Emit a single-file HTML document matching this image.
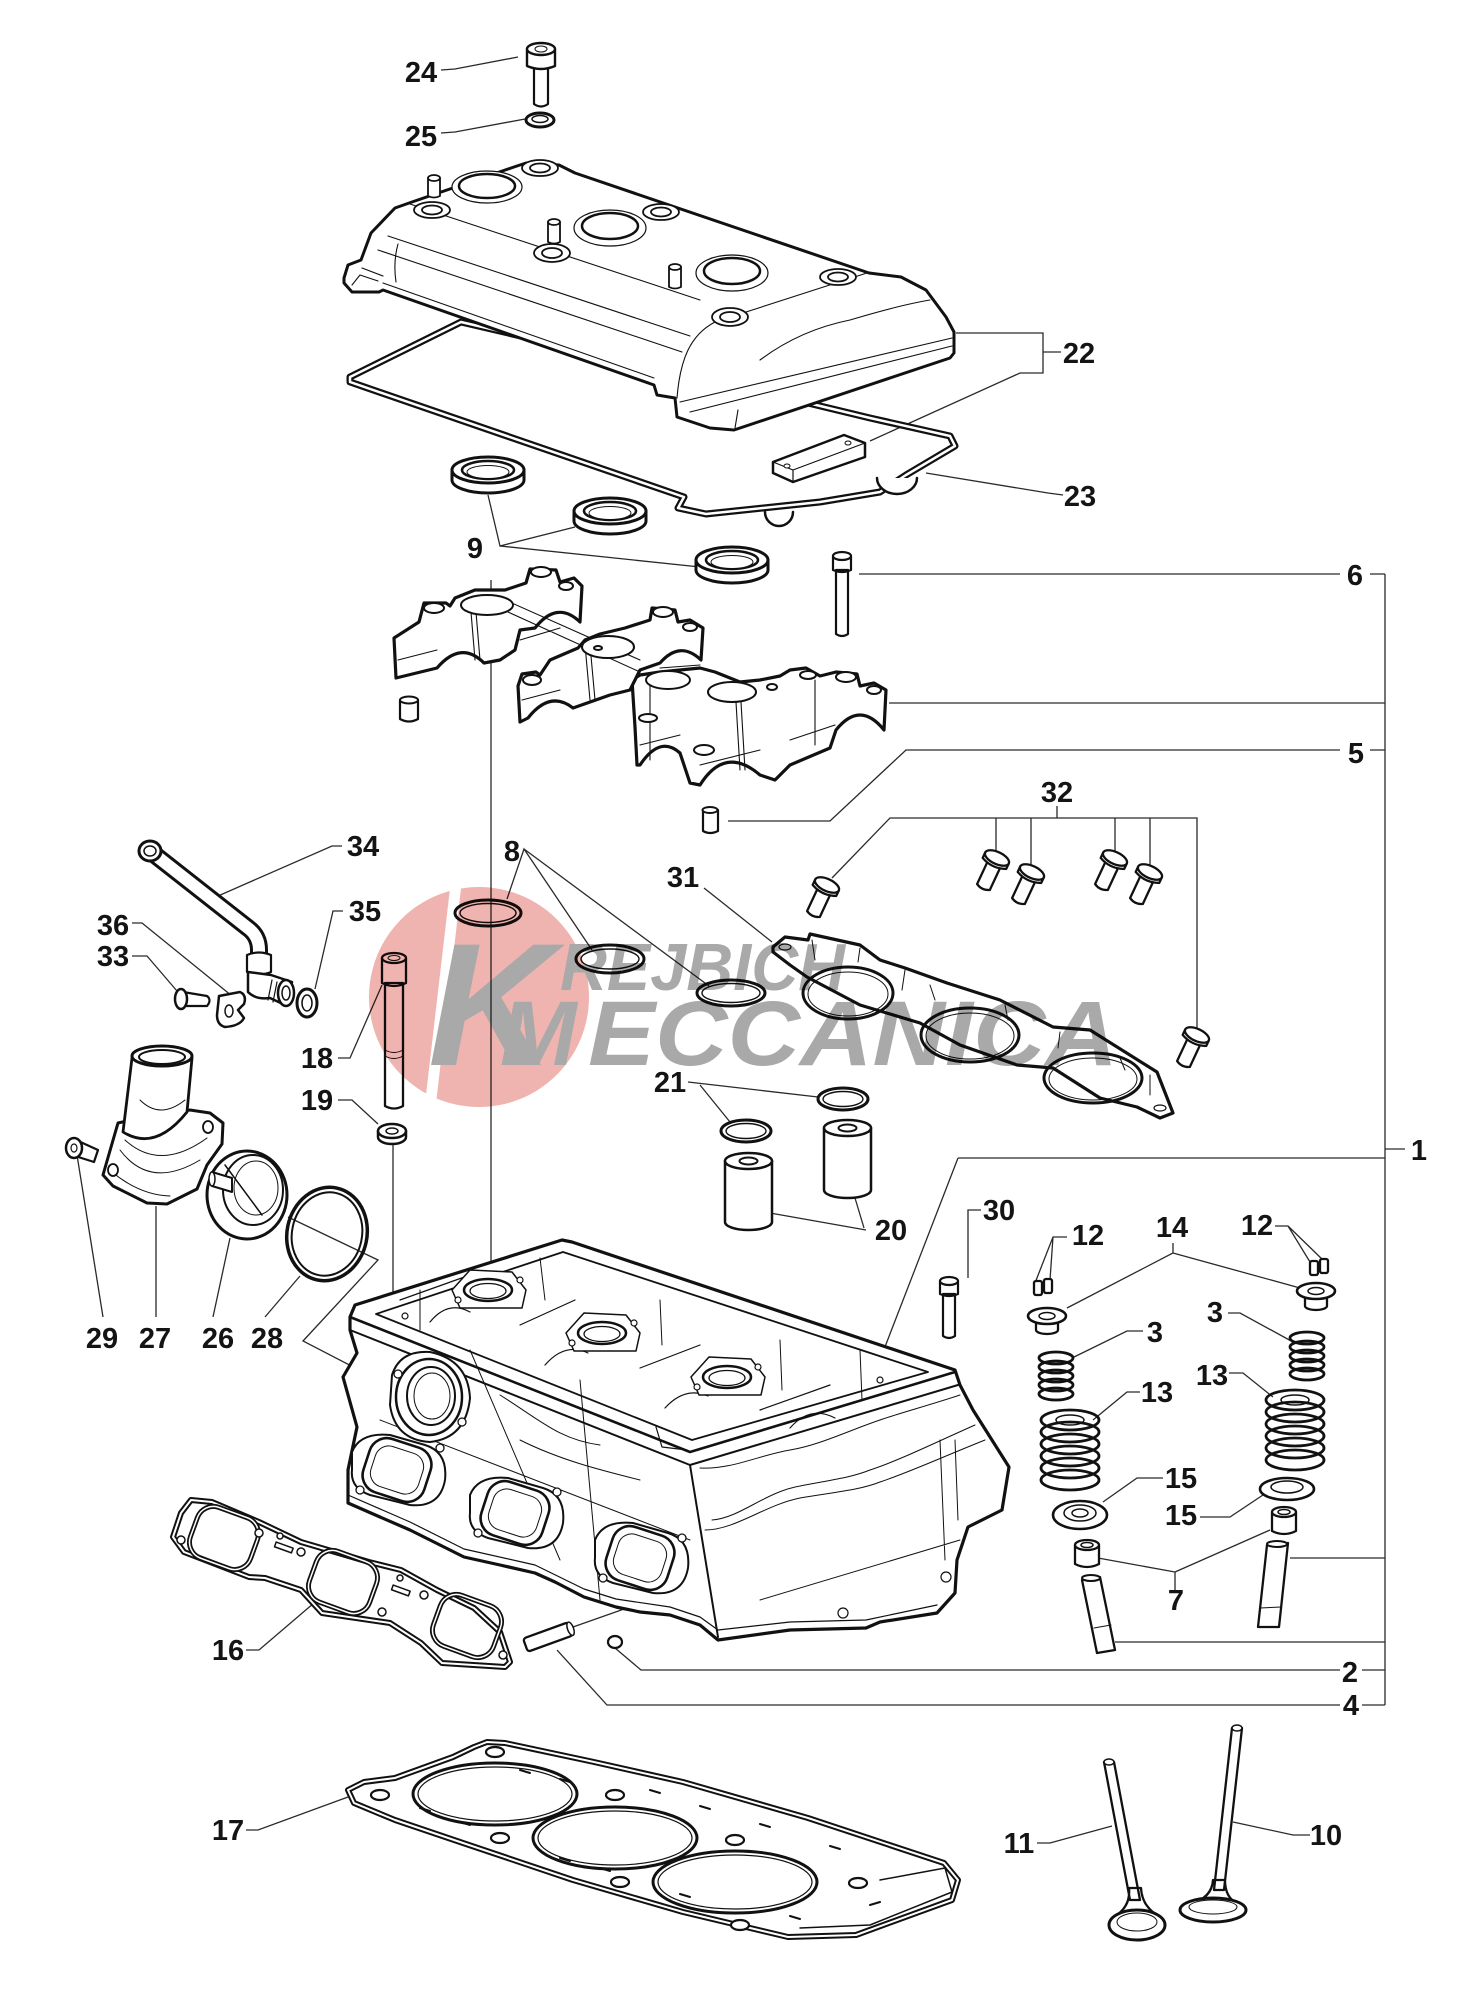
<!DOCTYPE html>
<html><head><meta charset="utf-8">
<style>
html,body{margin:0;padding:0;background:#fff;}
svg{display:block;}
.t text{font-family:"Liberation Sans",Arial,sans-serif;font-weight:bold;font-size:29px;fill:#141414;text-anchor:middle;}
</style></head><body>
<svg width="1469" height="1994" viewBox="0 0 1469 1994" xmlns="http://www.w3.org/2000/svg">
<defs>
<g id="b32"><path d="M-7,5 L-7,32 Q0,36 7,32 L7,5 Z"/><path d="M-13,0 L-13,6 Q0,12 13,6 L13,0 Z"/><ellipse rx="13" ry="6"/></g>
<g id="seal"><path d="M-36,0 L-36,10 A36,13 0 0 0 36,10 L36,0 Z"/><ellipse rx="36" ry="13"/><ellipse rx="26" ry="9" stroke-width="2.5"/><ellipse cy="2" rx="21" ry="6.5" stroke-width="1"/></g>
<path id="g23" d="M350,377 L461,322 L812,404 L870,418 L950,436 L955,446 L906,475 L880,492 L820,502 L706,514 L678,508 L684,497 L350,382 Z"/>
<path id="p34" d="M150,851 L248,928 Q259,936 259,950 L259,975"/>
<path id="g16" d="M191,1500 L212,1502 L259,1522 L301,1542 L369,1562 L401,1570 L437,1590 L474,1608 L500,1632 L510,1662 L505,1667 L442,1663 L421,1643 L390,1623 L322,1613 L301,1590 L265,1578 L249,1577 L184,1552 L173,1537 L181,1513 Z"/>
<path id="g17" d="M474,1747 L487,1742 L505,1743 L594,1762 L683,1782 L808,1818 L944,1863 L958,1880 L952,1900 L856,1935 L788,1937 L683,1912 L573,1880 L463,1843 L395,1820 L354,1803 L348,1790 L364,1782 L395,1778 L453,1757 Z"/>
<rect id="pA" x="192" y="1511" width="64" height="54" rx="17" transform="rotate(20,224,1538)"/>
<rect id="pB" x="311" y="1555" width="64" height="54" rx="17" transform="rotate(20,343,1582)"/>
<rect id="pC" x="435" y="1599" width="64" height="54" rx="17" transform="rotate(20,467,1626)"/>
</defs>
<rect width="1469" height="1994" fill="#fff"/>

<path fill="none" stroke="#2a2a2a" stroke-width="1.3" d="
M441,70 L455,69 L518,57 M441,133 L455,132 L525,119
M956,333 L1043,333 L1043,373 L1020,373 L870,441 M1043,352 L1061,352 M1063,495 L1048,493 L926,473
M488,495 L500,546 L575,527 M500,546 L700,567
M859,574 L1340,574 M1370,574 L1385,574 M889,703 L1385,703
M728,821 L830,821 L906,750 L1340,750 M1370,750 L1385,750 M1385,574 L1385,1705
M832,878 L890,818 L1197,818 L1197,1028 M996,818 L996,851 M1031,818 L1031,866 M1115,818 L1115,851 M1150,818 L1150,866 M1057,806 L1057,818
M342,846 L332,846 L218,896 M507,899 L524,849 L592,950 M524,849 L709,986 M704,888 L772,942
M343,911 L333,911 L315,989 M132,923 L142,923 L232,996 M132,956 L147,956 L177,991
M338,1058 L350,1058 L382,985 M338,1100 L352,1100 L378,1124
M818,1097 L688,1082 M700,1085 L730,1122 M770,1213 L866,1230 M855,1198 L864,1228
M981,1210 L968,1210 L968,1278 M958,1158 L1385,1158 M958,1158 L883,1352 M1385,1149 L1405,1149
M1067,1237 L1053,1237 L1035,1283 M1053,1237 L1050,1280
M1173,1243 L1173,1253 L1067,1308 M1173,1253 L1300,1288
M1275,1226 L1288,1226 L1310,1262 M1288,1226 L1325,1262
M1143,1331 L1127,1331 L1072,1358 M1228,1313 L1240,1313 L1293,1342
M1140,1392 L1127,1392 L1093,1420 M1229,1373 L1243,1373 L1273,1397
M1163,1478 L1137,1478 L1103,1502 M1200,1517 L1230,1517 L1263,1495
M1175,1590 L1175,1572 L1098,1558 M1175,1572 L1270,1530
M1290,1558 L1385,1558 M1115,1642 L1385,1642
M615,1648 L641,1670 L1340,1670 M1362,1670 L1385,1670
M557,1650 L607,1705 L1340,1705 M1362,1705 L1385,1705 M573,1627 L641,1603
M246,1650 L259,1650 L314,1603 M246,1830 L258,1830 L348,1797
M1037,1843 L1050,1843 L1112,1826 M1310,1835 L1293,1835 L1233,1822
M156,1317 L156,1206 M103,1317 L77,1155 M213,1317 L230,1238 M265,1317 L300,1276
M288,1217 L378,1260 L303,1341 L450,1417 M491,580 L491,1288 M393,1142 L393,1318"/>

<g stroke="#111" fill="#fff" stroke-linejoin="round" stroke-linecap="round">

<!-- bolt 24 / washer 25 -->
<path d="M534,66 L534,104 Q541,109 548,104 L548,66 Z" stroke-width="2.2"/>
<path d="M527,49 L527,66 Q541,72 555,66 L555,49 Z" stroke-width="2.4"/>
<ellipse cx="541" cy="49" rx="14" ry="6" stroke-width="2.4"/>
<ellipse cx="541" cy="49" rx="6" ry="3" stroke-width="1"/>
<ellipse cx="540" cy="120" rx="14" ry="7" stroke-width="3"/>
<ellipse cx="540" cy="119" rx="8" ry="3.5" stroke-width="1.5"/>

<!-- gasket 23 -->
<use href="#g23" fill="none" stroke="#111" stroke-width="7"/>
<use href="#g23" fill="none" stroke="#fff" stroke-width="2.5"/>
<path d="M765,512 A14,14 0 0 0 793,512 M877,478 A20,16 0 0 0 917,478" stroke-width="2.5"/>

<!-- valve cover 22 -->
<polygon points="344,278 348,265 361,260 371,233 395,208 412,202 514,167 526,163 559,165 575,173 869,273 901,277 926,290 946,317 954,332 954,353 950,358 734,430 710,428 677,417 675,398 657,395 654,385 383,290 379,292 352,292 344,283" stroke-width="3"/>
<path fill="none" stroke-width="1.1" d="M383,283 L654,378 M362,268 L383,276 M388,236 L690,336 M378,250 L682,352 M410,204 L700,300 M677,398 C680,360 690,335 715,322 L870,272 M680,402 L952,338 M690,412 L952,346 M352,285 L360,275 L378,281 M398,244 Q393,262 396,282 M735,428 L738,410 M760,360 Q800,330 850,320 Q900,305 930,300"/>
<g stroke-width="1.2"><ellipse cx="487" cy="187" rx="35" ry="16"/><ellipse cx="610" cy="228" rx="36" ry="18"/><ellipse cx="732" cy="273" rx="36" ry="18"/></g>
<g stroke-width="2.5"><ellipse cx="487" cy="186" rx="28" ry="12"/><ellipse cx="610" cy="226" rx="28" ry="13"/><ellipse cx="732" cy="271" rx="28" ry="13"/></g>
<g stroke-width="1.8">
<ellipse cx="540" cy="168" rx="18" ry="8"/><ellipse cx="540" cy="168" rx="10" ry="4.5"/>
<ellipse cx="432" cy="210" rx="18" ry="8"/><ellipse cx="432" cy="210" rx="10" ry="4.5"/>
<ellipse cx="552" cy="253" rx="18" ry="9"/><ellipse cx="552" cy="253" rx="10" ry="5"/>
<ellipse cx="661" cy="212" rx="18" ry="8"/><ellipse cx="661" cy="212" rx="10" ry="4.5"/>
<ellipse cx="838" cy="277" rx="18" ry="8"/><ellipse cx="838" cy="277" rx="10" ry="4.5"/>
<ellipse cx="730" cy="317" rx="18" ry="9"/><ellipse cx="730" cy="317" rx="10" ry="5"/>
<path d="M428,178 L428,196 Q434,199 440,196 L440,178 Z M548,222 L548,242 Q554,245 560,242 L560,222 Z M669,267 L669,287 Q675,290 681,287 L681,267 Z"/>
<ellipse cx="434" cy="178" rx="6" ry="3"/><ellipse cx="554" cy="222" rx="6" ry="3"/><ellipse cx="675" cy="267" rx="6" ry="3"/>
</g>

<!-- block 22 -->
<polygon points="773,462 844,435 865,443 865,457 793,482 773,473" stroke-width="2.5"/>
<path d="M773,462 L793,470 L865,443 M793,470 L793,482" fill="none" stroke-width="1.2"/>
<ellipse cx="787" cy="466" rx="3" ry="2" stroke-width="1"/><ellipse cx="848" cy="443" rx="3" ry="2" stroke-width="1"/>

<!-- seals 9 -->
<g stroke-width="3">
<use href="#seal" x="488" y="470"/><use href="#seal" x="610" y="511"/><use href="#seal" x="732" y="560"/>
</g>

<!-- bolt 6 -->
<path d="M836,570 L836,634 Q842,638 848,634 L848,570 Z M833,556 L833,570 Q842,574 851,570 L851,556 Z" stroke-width="2.2"/>
<ellipse cx="842" cy="556" rx="9" ry="4" stroke-width="2.2"/>

<!-- camshaft carrier -->
<g stroke-width="3.2">
<path d="M635,727 L637,765 L640,765 Q660,735 680,753 L690,783 L700,785 Q725,745 760,775 L775,780 L790,765 L830,748 L836,730 Q860,700 884,730 L886,690 L874,683 L860,686 L857,674 L836,672 L820,676 L806,668 L790,670 L780,676 L760,680 L740,682 L715,672 L700,668 L680,670 L660,672 L640,675 L632,680 Z"/>
<path d="M518,686 L520,722 L528,718 Q550,690 573,708 L610,695 L630,690 L640,670 L660,663 Q680,640 701,660 L703,628 L690,620 L678,622 L675,610 L652,608 L650,620 L625,628 L600,634 L585,640 L578,648 L550,660 L540,675 L536,672 L522,674 Z"/>
<path d="M394,638 L396,678 L437,668 Q461,640 484,663 L500,660 L515,650 L520,630 L535,628 Q557,600 580,622 L582,586 L574,578 L560,582 L556,570 L530,569 L526,583 L505,590 L475,590 L455,598 L450,606 L446,603 L424,603 L419,622 Z"/>
</g>
<path fill="none" stroke-width="1.1" d="M398,660 L437,650 M520,640 L560,628 M522,700 L560,690 M640,745 L680,735 M700,765 L760,750 M790,740 L835,725 M470,600 L475,660 M475,600 L480,660 M585,645 L590,700 M590,645 L595,700 M735,685 L740,770 M740,685 L745,770 M505,600 L640,660 M508,612 L640,672 M650,680 L650,760 M815,680 L815,745 M660,668 L700,665"/>
<g stroke-width="2">
<ellipse cx="487" cy="605" rx="26" ry="10"/><ellipse cx="608" cy="647" rx="26" ry="11"/>
<ellipse cx="668" cy="680" rx="22" ry="9"/><ellipse cx="732" cy="692" rx="24" ry="10"/>
<ellipse cx="434" cy="608" rx="10" ry="5"/><ellipse cx="541" cy="572" rx="10" ry="5"/>
<ellipse cx="566" cy="586" rx="7" ry="4"/><ellipse cx="532" cy="680" rx="9" ry="5"/>
<ellipse cx="663" cy="612" rx="10" ry="5"/><ellipse cx="690" cy="627" rx="7" ry="4"/>
<ellipse cx="648" cy="718" rx="9" ry="4"/><ellipse cx="704" cy="750" rx="10" ry="5"/>
<ellipse cx="808" cy="675" rx="8" ry="4"/><ellipse cx="846" cy="677" rx="10" ry="5"/>
<ellipse cx="874" cy="690" rx="7" ry="4"/><ellipse cx="598" cy="648" rx="4" ry="2"/>
<ellipse cx="772" cy="687" rx="5" ry="3"/>
</g>

<!-- dowels -->
<path d="M400,700 L400,719 Q409,724 418,719 L418,700 Z M703,810 L703,831 Q710,835 718,831 L718,810 Z" stroke-width="2.2"/>
<ellipse cx="409" cy="700" rx="9" ry="3.5" stroke-width="2"/><ellipse cx="710" cy="810" rx="7.5" ry="3" stroke-width="2"/>

<!-- bolts 32 -->
<g stroke-width="2.3">
<use href="#b32" transform="translate(827,885) rotate(25)"/>
<use href="#b32" transform="translate(997,858) rotate(25)"/>
<use href="#b32" transform="translate(1032,872) rotate(25)"/>
<use href="#b32" transform="translate(1115,858) rotate(25)"/>
<use href="#b32" transform="translate(1150,872) rotate(25)"/>
<use href="#b32" transform="translate(1197,1035) rotate(25)"/>
</g>

<!-- gasket 31 -->
<polygon points="773,947 785,937 808,940 810,934 860,945 880,960 905,968 947,983 1000,1000 1053,1027 1090,1030 1157,1072 1173,1113 1160,1118 1137,1107 1100,1098 1053,1068 1017,1065 960,1045 920,1023 860,1005 807,977 790,965 773,952" stroke-width="3.2"/>
<g fill="none" stroke-width="3"><ellipse cx="848" cy="993" rx="45" ry="26"/><ellipse cx="970" cy="1035" rx="49" ry="27"/><ellipse cx="1093" cy="1078" rx="49" ry="25"/></g>
<g fill="none" stroke-width="1"><ellipse cx="848" cy="994" rx="40" ry="22"/><ellipse cx="970" cy="1036" rx="44" ry="23"/><ellipse cx="1093" cy="1079" rx="44" ry="21"/>
<path d="M812,940 L815,960 M860,948 L858,962 M905,970 L902,990 M930,985 L935,1000 M1005,1005 L1008,1020 M1060,1032 L1058,1048 M1120,1058 L1125,1070 M1150,1075 L1150,1095"/></g>
<ellipse cx="785" cy="947" rx="6" ry="3" stroke-width="1.2"/><ellipse cx="1160" cy="1108" rx="6" ry="3" stroke-width="1.2"/>

<!-- rings 8, 21 -->
<g fill="none" stroke-width="3">
<ellipse cx="488" cy="913" rx="33" ry="13"/><ellipse cx="610" cy="959" rx="34" ry="14"/><ellipse cx="731" cy="993" rx="34" ry="13"/>
<ellipse cx="843" cy="1099" rx="25" ry="11"/><ellipse cx="746" cy="1131" rx="25" ry="11"/>
</g>
<g fill="none" stroke-width="1.4">
<ellipse cx="488" cy="913" rx="28" ry="9.5"/><ellipse cx="610" cy="959" rx="29" ry="10"/><ellipse cx="731" cy="993" rx="29" ry="9.5"/>
<ellipse cx="843" cy="1099" rx="20" ry="7.5"/><ellipse cx="746" cy="1131" rx="20" ry="7.5"/>
</g>

<!-- cylinders 20 -->
<g stroke-width="2.5">
<path d="M725,1161 L725,1222 A23.5,8 0 0 0 772,1222 L772,1161 Z M824,1128 L824,1190 A23.5,8 0 0 0 871,1190 L871,1128 Z"/>
<ellipse cx="748.5" cy="1161" rx="23.5" ry="8"/><ellipse cx="847.5" cy="1128" rx="23.5" ry="8"/>
<ellipse cx="748.5" cy="1161" rx="9" ry="3.5" stroke-width="2"/><ellipse cx="847.5" cy="1128" rx="9" ry="3.5" stroke-width="2"/>
</g>

<!-- bolt 30 -->
<path d="M943,1294 L943,1336 Q949,1340 955,1336 L955,1294 Z M940,1281 L940,1294 Q949,1298 958,1294 L958,1281 Z" stroke-width="2.2"/>
<ellipse cx="949" cy="1281" rx="9" ry="4" stroke-width="2.2"/>

<!-- bolt 18 / washer 19 -->
<path d="M385,983 L385,1106 Q394,1111 403,1106 L403,983 Z M382,958 L382,983 Q394,989 406,983 L406,958 Z" stroke-width="2.3"/>
<ellipse cx="394" cy="958" rx="12" ry="5" stroke-width="2.3"/>
<ellipse cx="394" cy="958" rx="6" ry="2.5" stroke-width="1"/>
<path d="M385,1050 Q394,1055 403,1050 M385,1056 Q394,1061 403,1056" fill="none" stroke-width="1"/>
<path d="M378,1131 L378,1137 A14,7 0 0 0 406,1137 L406,1131 Z" stroke-width="2.5"/>
<ellipse cx="392" cy="1131" rx="14" ry="7" stroke-width="2.5"/>
<ellipse cx="392" cy="1131" rx="6" ry="3" stroke-width="1.5"/>

<!-- pipe 34 etc -->
<use href="#p34" fill="none" stroke="#111" stroke-width="18"/>
<use href="#p34" fill="none" stroke="#fff" stroke-width="12"/>
<ellipse cx="150" cy="851" rx="11" ry="10" stroke-width="3"/>
<ellipse cx="150" cy="851" rx="6" ry="5" stroke-width="1.5"/>
<path d="M247,955 L247,972 Q259,977 271,972 L271,955 Q259,950 247,955 Z" stroke-width="2.2"/>
<path d="M248,972 L248,992 Q256,1000 270,998 L285,1005 L292,982 L271,975 Z" stroke-width="2.5"/>
<ellipse cx="286" cy="993" rx="8" ry="13" stroke-width="2.5"/>
<ellipse cx="286" cy="993" rx="4" ry="7" stroke-width="1.5"/>
<path d="M272,980 L268,1000 M277,982 L273,1002" fill="none" stroke-width="1.2"/>
<ellipse cx="307" cy="1003" rx="10" ry="14" stroke-width="3"/>
<ellipse cx="307" cy="1003" rx="5" ry="8" stroke-width="1.5"/>
<path d="M183,992 L207,996 Q212,1000 207,1006 L183,1006 Z" stroke-width="2.2"/>
<ellipse cx="181" cy="999" rx="6" ry="10" stroke-width="2.5"/>
<path d="M219,996 L240,992 Q247,995 244,1004 L238,1010 L244,1018 Q240,1026 225,1027 Q217,1025 217,1015 Z" stroke-width="2.5"/>
<ellipse cx="229" cy="1011" rx="4" ry="6" stroke-width="1.5"/>

<!-- housing 27, bolt 29, thermostat 26, o-ring 28 -->
<path d="M118,1123 L107,1161 L103,1175 L113,1186 L147,1203 L167,1204 L197,1189 L207,1165 L222,1144 L223,1123 L210,1113 L190,1110 L140,1118 Z" stroke-width="3"/>
<path d="M120,1150 Q150,1190 200,1160 M125,1140 Q160,1172 207,1138 M112,1172 Q140,1195 170,1196" fill="none" stroke-width="1"/>
<path d="M132,1058 L123,1132 Q155,1152 187,1112 L192,1058 Z" stroke-width="2.8"/>
<path d="M140,1100 Q160,1120 185,1100" fill="none" stroke-width="1"/>
<ellipse cx="162" cy="1056" rx="30" ry="10" stroke-width="3"/>
<ellipse cx="162" cy="1057" rx="23" ry="7" stroke-width="2"/>
<ellipse cx="208" cy="1127" rx="5" ry="6" stroke-width="1.8"/>
<ellipse cx="113" cy="1170" rx="5" ry="6" stroke-width="1.8"/>
<polygon points="76,1140 98,1150 94,1162 72,1155" stroke-width="2.2"/>
<ellipse cx="74" cy="1148" rx="8" ry="10" stroke-width="2.5"/>
<ellipse cx="74" cy="1148" rx="3" ry="4" stroke-width="1.2"/>
<ellipse cx="247" cy="1195" rx="40" ry="44" stroke-width="3"/>
<ellipse cx="253" cy="1190" rx="30" ry="35" stroke-width="2"/>
<ellipse cx="256" cy="1188" rx="22" ry="27" stroke-width="1"/>
<path d="M225,1165 L262,1215" fill="none" stroke-width="1.5"/>
<path d="M212,1172 L232,1178 L232,1192 L212,1186 Z" stroke-width="2"/>
<ellipse cx="212" cy="1179" rx="3" ry="7" stroke-width="1.5"/>
<g transform="rotate(12,327,1234)" fill="none">
<ellipse cx="327" cy="1234" rx="40" ry="47" stroke-width="3.5"/>
<ellipse cx="327" cy="1234" rx="35" ry="42" stroke-width="2"/>
</g>

<!-- cylinder head -->
<path d="M350,1317 L355,1305 L562,1240 L572,1242 L955,1370 L960,1385 L973,1410 L1009,1467 L1002,1510 L968,1527 L957,1560 L955,1593 L937,1613 L880,1622 L866,1628 L790,1630 L718,1640 L700,1625 L670,1615 L640,1612 L616,1607 L584,1597 L555,1582 L535,1573 L500,1565 L464,1557 L430,1540 L410,1530 L380,1517 L348,1503 L348,1470 L357,1427 L343,1377 L357,1353 L350,1330 Z" stroke-width="3.2"/>
<path fill="none" stroke-width="2.6" d="M350,1317 L690,1452 L955,1372"/>
<path fill="none" stroke-width="2" d="M350,1330 L690,1465 L958,1385 M690,1465 L718,1637"/>
<path fill="none" stroke-width="1.8" d="M376,1314 L563,1252 L928,1372 L692,1440 Z"/>
<path fill="none" stroke-width="1.2" d="M656,1427 L662,1447 L687,1450 M348,1495 L410,1522 L464,1549 L535,1565 L584,1589 L616,1599 L670,1607 L700,1617 L718,1630 M718,1630 L790,1622 L866,1620 L937,1605 M400,1300 L470,1275 M520,1325 L575,1300 M640,1368 L700,1345 M760,1410 L830,1385 M430,1322 Q448,1300 470,1312 M545,1365 Q565,1342 588,1353 M665,1408 Q685,1386 708,1396 M790,1428 Q810,1405 835,1418"/>
<path fill="none" stroke-width="1" d="M700,1468 C730,1470 760,1455 790,1450 C820,1445 850,1430 880,1420 C900,1413 930,1405 960,1395 M712,1520 C740,1518 765,1492 800,1486 C830,1480 850,1478 870,1470 C900,1460 930,1445 975,1425 M705,1530 C735,1530 765,1505 800,1498 C835,1492 860,1490 880,1482 C910,1472 940,1458 985,1440 M940,1440 L945,1560 M955,1440 L958,1520 M760,1600 L960,1540 M420,1290 L420,1330 M540,1258 L545,1300 M660,1300 L662,1345 M780,1340 L782,1390 M860,1350 L862,1400 M470,1350 L560,1560 M580,1380 L600,1600 M380,1420 L690,1540 M500,1395 C540,1420 560,1440 600,1445 M520,1440 C560,1460 600,1470 640,1480"/>
<path stroke-width="1.5" d="M452,1290 L470,1270 L512,1272 L526,1290 L522,1308 L460,1308 Z M566,1333 L584,1313 L626,1315 L640,1333 L636,1351 L574,1351 Z M691,1377 L709,1357 L751,1359 L765,1377 L761,1395 L699,1395 Z"/>
<g stroke-width="2.5"><ellipse cx="488" cy="1290" rx="24" ry="11"/><ellipse cx="602" cy="1333" rx="24" ry="11"/><ellipse cx="727" cy="1377" rx="24" ry="11"/></g>
<g fill="none" stroke-width="1.3"><ellipse cx="488" cy="1291" rx="18" ry="7.5"/><ellipse cx="602" cy="1334" rx="18" ry="7.5"/><ellipse cx="727" cy="1378" rx="18" ry="7.5"/></g>
<g stroke-width="1.2">
<circle cx="458" cy="1300" r="3"/><circle cx="520" cy="1280" r="3"/><circle cx="572" cy="1343" r="3"/><circle cx="634" cy="1323" r="3"/>
<circle cx="697" cy="1387" r="3"/><circle cx="758" cy="1367" r="3"/><circle cx="405" cy="1316" r="3"/><circle cx="880" cy="1380" r="3"/>
<circle cx="843" cy="1613" r="5"/><circle cx="946" cy="1577" r="5"/>
</g>
<path d="M392,1375 Q400,1350 430,1352 Q468,1360 470,1398 Q466,1438 430,1442 Q395,1440 390,1405 Z" stroke-width="2"/>
<ellipse cx="429" cy="1397" rx="33" ry="38" stroke-width="2.5"/>
<ellipse cx="431" cy="1396" rx="24" ry="29" stroke-width="2"/>
<ellipse cx="432" cy="1396" rx="18" ry="23" fill="none" stroke-width="1"/>
<path stroke-width="2" d="M352,1452 Q360,1432 390,1435 L425,1445 Q448,1452 445,1480 Q440,1508 410,1505 L370,1495 Q350,1488 352,1470 Z M470,1495 Q478,1475 508,1478 L543,1488 Q566,1495 563,1523 Q558,1551 528,1548 L488,1538 Q468,1531 470,1513 Z M595,1540 Q603,1520 633,1523 L668,1533 Q691,1540 688,1568 Q683,1596 653,1593 L613,1583 Q593,1576 595,1558 Z"/>
<g stroke-width="2.6">
<rect x="365" y="1442" width="64" height="56" rx="18" transform="rotate(18,397,1470)"/>
<rect x="483" y="1485" width="64" height="56" rx="18" transform="rotate(18,515,1513)"/>
<rect x="608" y="1530" width="64" height="56" rx="18" transform="rotate(18,640,1558)"/>
</g>
<g fill="none" stroke-width="1">
<rect x="372" y="1449" width="50" height="42" rx="14" transform="rotate(18,397,1470)"/>
<rect x="490" y="1492" width="50" height="42" rx="14" transform="rotate(18,515,1513)"/>
<rect x="615" y="1537" width="50" height="42" rx="14" transform="rotate(18,640,1558)"/>
</g>
<g stroke-width="1.3">
<circle cx="398" cy="1374" r="4"/><circle cx="462" cy="1422" r="4"/>
<circle cx="360" cy="1490" r="4"/><circle cx="440" cy="1448" r="4"/><circle cx="478" cy="1533" r="4"/>
<circle cx="557" cy="1492" r="4"/><circle cx="603" cy="1578" r="4"/><circle cx="682" cy="1538" r="4"/>
</g>

<!-- pin 4, ring 2 -->
<g transform="rotate(-20,548,1637)">
<rect x="524" y="1630" width="48" height="14" rx="3" stroke-width="2.3"/>
<ellipse cx="572" cy="1637" rx="3" ry="7" stroke-width="1.5"/>
</g>
<ellipse cx="615" cy="1642" rx="7" ry="6" stroke-width="2.2"/>

<!-- gasket 16 -->
<use href="#g16" fill="#fff" stroke="#111" stroke-width="6"/>
<use href="#g16" fill="none" stroke="#fff" stroke-width="2"/>
<g fill="none" stroke="#111" stroke-width="5"><use href="#pA"/><use href="#pB"/><use href="#pC"/></g>
<g fill="none" stroke="#fff" stroke-width="1.5"><use href="#pA"/><use href="#pB"/><use href="#pC"/></g>
<g stroke-width="1.5">
<circle cx="181" cy="1540" r="4"/><circle cx="259" cy="1533" r="4"/><circle cx="280" cy="1536" r="3"/>
<circle cx="301" cy="1552" r="4"/><circle cx="382" cy="1612" r="4"/><circle cx="400" cy="1578" r="3"/>
<circle cx="424" cy="1595" r="4"/><circle cx="503" cy="1655" r="4"/>
<rect x="275" y="1545" width="18" height="5" transform="rotate(20,284,1547)"/>
<rect x="392" y="1588" width="18" height="5" transform="rotate(20,401,1590)"/>
</g>

<!-- head gasket 17 -->
<use href="#g17" fill="#fff" stroke="#111" stroke-width="6"/>
<use href="#g17" fill="none" stroke="#fff" stroke-width="2"/>
<path d="M880,1880 L945,1868 L952,1892 L870,1925 L800,1928" fill="none" stroke-width="1.5"/>
<g fill="none" stroke-width="3"><ellipse cx="495" cy="1794" rx="82" ry="31"/><ellipse cx="615" cy="1838" rx="82" ry="31"/><ellipse cx="735" cy="1882" rx="82" ry="31"/></g>
<g fill="none" stroke-width="1.2"><ellipse cx="495" cy="1794" rx="77" ry="27"/><ellipse cx="615" cy="1838" rx="77" ry="27"/><ellipse cx="735" cy="1882" rx="77" ry="27"/></g>
<g stroke-width="2.2">
<ellipse cx="380" cy="1795" rx="9" ry="5"/><ellipse cx="495" cy="1752" rx="9" ry="5"/><ellipse cx="615" cy="1795" rx="9" ry="5"/><ellipse cx="735" cy="1840" rx="9" ry="5"/>
<ellipse cx="858" cy="1883" rx="9" ry="5"/><ellipse cx="740" cy="1925" rx="9" ry="5"/><ellipse cx="620" cy="1882" rx="9" ry="5"/><ellipse cx="500" cy="1838" rx="9" ry="5"/>
</g>
<path fill="none" stroke-width="2" d="M520,1770 l10,3 M560,1779 l10,3 M650,1790 l10,3 M700,1806 l10,3 M760,1824 l10,3 M830,1846 l10,3 M420,1808 l10,3 M460,1822 l10,3 M560,1858 l10,3 M600,1868 l10,3 M680,1894 l10,3 M790,1916 l10,3 M870,1905 l10,-3"/>

<!-- valve train -->
<g stroke-width="2.3">
<rect x="1034" y="1281" width="8" height="14" rx="2"/><rect x="1044" y="1279" width="8" height="14" rx="2"/>
<rect x="1310" y="1261" width="8" height="14" rx="2"/><rect x="1320" y="1259" width="8" height="14" rx="2"/>
<path d="M1036,1319 L1036,1330 A11,4 0 0 0 1058,1330 L1058,1319 Z M1305,1294 L1305,1306 A11,4 0 0 0 1327,1306 L1327,1294 Z"/>
</g>
<g stroke-width="2.6"><ellipse cx="1047" cy="1316" rx="19" ry="8"/><ellipse cx="1316" cy="1291" rx="19" ry="8"/></g>
<g stroke-width="1.5"><ellipse cx="1047" cy="1316" rx="8" ry="3.5"/><ellipse cx="1316" cy="1291" rx="8" ry="3.5"/></g>
<path fill="none" stroke-width="2.8" d="
M1039,1394 a17,6 0 1 0 34,0 a17,6 0 1 0 -34,0 M1039,1385 a17,6 0 1 0 34,0 a17,6 0 1 0 -34,0 M1039,1376 a17,6 0 1 0 34,0 a17,6 0 1 0 -34,0 M1039,1367 a17,6 0 1 0 34,0 a17,6 0 1 0 -34,0 M1039,1358 a17,6 0 1 0 34,0 a17,6 0 1 0 -34,0
M1290,1374 a17,6 0 1 0 34,0 a17,6 0 1 0 -34,0 M1290,1365 a17,6 0 1 0 34,0 a17,6 0 1 0 -34,0 M1290,1356 a17,6 0 1 0 34,0 a17,6 0 1 0 -34,0 M1290,1347 a17,6 0 1 0 34,0 a17,6 0 1 0 -34,0 M1290,1338 a17,6 0 1 0 34,0 a17,6 0 1 0 -34,0
M1041,1480 a29,10 0 1 0 58,0 a29,10 0 1 0 -58,0 M1041,1468 a29,10 0 1 0 58,0 a29,10 0 1 0 -58,0 M1041,1456 a29,10 0 1 0 58,0 a29,10 0 1 0 -58,0 M1041,1444 a29,10 0 1 0 58,0 a29,10 0 1 0 -58,0 M1041,1432 a29,10 0 1 0 58,0 a29,10 0 1 0 -58,0 M1041,1420 a29,10 0 1 0 58,0 a29,10 0 1 0 -58,0
M1266,1460 a29,10 0 1 0 58,0 a29,10 0 1 0 -58,0 M1266,1448 a29,10 0 1 0 58,0 a29,10 0 1 0 -58,0 M1266,1436 a29,10 0 1 0 58,0 a29,10 0 1 0 -58,0 M1266,1424 a29,10 0 1 0 58,0 a29,10 0 1 0 -58,0 M1266,1412 a29,10 0 1 0 58,0 a29,10 0 1 0 -58,0 M1266,1400 a29,10 0 1 0 58,0 a29,10 0 1 0 -58,0"/>
<g fill="none" stroke-width="1.5"><ellipse cx="1070" cy="1420" rx="14" ry="5"/><ellipse cx="1295" cy="1400" rx="14" ry="5"/></g>
<ellipse cx="1080" cy="1515" rx="27" ry="14" stroke-width="2.6"/>
<ellipse cx="1287" cy="1489" rx="27" ry="11" stroke-width="2.6"/>
<g fill="none" stroke-width="1.5"><ellipse cx="1080" cy="1513" rx="16" ry="8"/><ellipse cx="1080" cy="1513" rx="8" ry="4"/><ellipse cx="1287" cy="1487" rx="16" ry="6"/></g>
<path stroke-width="2.3" d="M1075,1545 L1075,1564 Q1087,1570 1099,1564 L1099,1545 Z M1272,1512 L1272,1531 Q1284,1537 1296,1531 L1296,1512 Z"/>
<g stroke-width="2.3"><ellipse cx="1087" cy="1545" rx="12" ry="5"/><ellipse cx="1284" cy="1512" rx="12" ry="5"/></g>
<g stroke-width="1.5"><ellipse cx="1087" cy="1545" rx="6" ry="2.5"/><ellipse cx="1284" cy="1512" rx="6" ry="2.5"/></g>
<path stroke-width="2.3" d="M1082,1580 L1100,1577 L1115,1650 L1097,1653 Z M1267,1545 L1288,1543 L1279,1627 L1258,1627 Z"/>
<g stroke-width="2"><ellipse cx="1091" cy="1578" rx="9" ry="3"/><ellipse cx="1277" cy="1544" rx="10" ry="3"/></g>
<path d="M1094,1628 L1111,1625 M1260,1608 L1281,1607" fill="none" stroke-width="1"/>

<!-- valves 11 / 10 -->
<path stroke-width="2.3" d="M1104,1762 L1114,1762 L1140,1900 L1130,1900 Z M1129,1888 Q1131,1908 1112,1918 L1162,1918 Q1142,1908 1141,1888 Z M1232,1728 L1242,1728 L1224,1890 L1214,1890 Z M1213,1880 Q1212,1898 1190,1904 L1238,1904 Q1225,1898 1225,1880 Z"/>
<g stroke-width="3"><ellipse cx="1137" cy="1925" rx="28" ry="15"/><ellipse cx="1213" cy="1910" rx="33" ry="12"/></g>
<g fill="none" stroke-width="1"><ellipse cx="1137" cy="1922" rx="20" ry="9"/><ellipse cx="1213" cy="1907" rx="24" ry="7"/></g>
<g stroke-width="1.5"><ellipse cx="1109" cy="1762" rx="5" ry="3"/><ellipse cx="1237" cy="1728" rx="5" ry="3"/></g>
</g>

<g class="t">
<text x="421" y="82">24</text><text x="421" y="146">25</text><text x="1079" y="363">22</text><text x="1080" y="506">23</text>
<text x="475" y="558">9</text><text x="1355" y="585">6</text><text x="1356" y="763">5</text><text x="1057" y="802">32</text>
<text x="363" y="856">34</text><text x="512" y="861">8</text><text x="683" y="887">31</text><text x="365" y="921">35</text>
<text x="113" y="935">36</text><text x="113" y="966">33</text><text x="317" y="1068">18</text><text x="317" y="1110">19</text>
<text x="670" y="1092">21</text><text x="891" y="1240">20</text><text x="999" y="1220">30</text><text x="1419" y="1160">1</text>
<text x="1088" y="1245">12</text><text x="1172" y="1237">14</text><text x="1257" y="1235">12</text><text x="1215" y="1322">3</text>
<text x="1155" y="1342">3</text><text x="1212" y="1385">13</text><text x="1157" y="1402">13</text><text x="1181" y="1488">15</text>
<text x="1181" y="1525">15</text><text x="1176" y="1610">7</text><text x="102" y="1348">29</text><text x="155" y="1348">27</text>
<text x="218" y="1348">26</text><text x="267" y="1348">28</text><text x="228" y="1660">16</text><text x="1350" y="1682">2</text>
<text x="1351" y="1715">4</text><text x="228" y="1840">17</text><text x="1019" y="1853">11</text><text x="1326" y="1845">10</text>
</g>

<g style="mix-blend-mode:multiply">
<circle cx="479" cy="997" r="110" fill="#f0b4b0"/>
<polygon points="451,880 462,880 435,1112 424,1112" fill="#fff"/>
<g font-family="Liberation Sans, Arial, sans-serif" font-weight="bold" font-style="italic" fill="#a9a9a9">
<text x="428" y="1065" font-size="175">K</text>
<text x="560" y="990" font-size="67" textLength="285" lengthAdjust="spacingAndGlyphs">REJBICH</text>
<text x="500" y="1065" font-size="92">M</text>
<text x="588" y="1065" font-size="92" textLength="530" lengthAdjust="spacingAndGlyphs">ECCANICA</text>
</g>
</g>
</svg>
</body></html>
